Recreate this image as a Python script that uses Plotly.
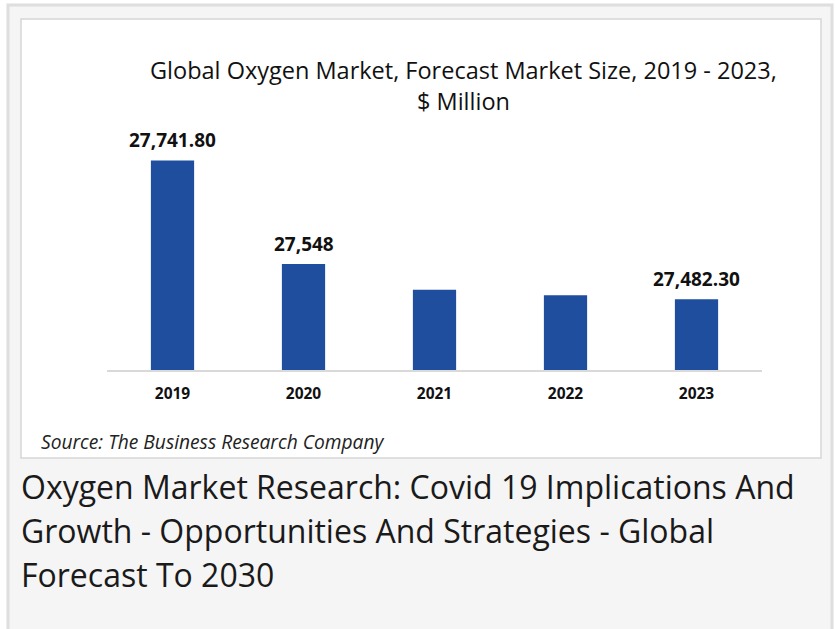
import plotly.graph_objects as go

years = ["2019", "2020", "2021", "2022", "2023"]
values = [27741.80, 27548.00, 27500.00, 27490.00, 27482.30]
labels = ["27,741.80", "27,548", "", "", "27,482.30"]

chart_title_1 = "Global Oxygen Market, Forecast Market Size, 2019 - 2023,"
chart_title_2 = "$ Million"
source_text = "Source: The Business Research Company"
heading_lines = [
    "Oxygen Market Research: Covid 19 Implications And",
    "Growth - Opportunities And Strategies - Global",
    "Forecast To 2030",
]

W, H = 836, 629
L, R, T, B = 107, 74, 120, 259
PW, PH = W - L - R, H - T - B


def px(x):
    return (x - L) / PW


def py(y):
    return (H - B - y) / PH


fig = go.Figure()
fig.add_trace(go.Bar(
    x=years, y=values, width=0.33,
    marker=dict(color="#1f4e9f", line=dict(width=0)),
    hoverinfo="skip",
))

annotations = []
for i, (v, lab) in enumerate(zip(values, labels)):
    if lab:
        annotations.append(dict(
            x=i, y=v, xref="x", yref="y", text=f"<b>{lab}</b>",
            showarrow=False, yanchor="bottom", yshift=5,
            font=dict(family="Open Sans", size=19, color="#111111"),
        ))

annotations.append(dict(x=px(463), y=py(70), xref="paper", yref="paper",
                        text=chart_title_1, showarrow=False, xanchor="center", yanchor="middle",
                        font=dict(family="Open Sans", size=23.5, color="#111111")))
annotations.append(dict(x=px(463), y=py(101), xref="paper", yref="paper",
                        text=chart_title_2, showarrow=False, xanchor="center", yanchor="middle",
                        font=dict(family="Open Sans", size=23.5, color="#111111")))
annotations.append(dict(x=px(39), y=py(441), xref="paper", yref="paper",
                        text=f"<i>{source_text}</i>", showarrow=False, xanchor="left", yanchor="middle",
                        font=dict(family="Open Sans", size=19.2, color="#222222")))
for i, line in enumerate(heading_lines):
    annotations.append(dict(x=px(19), y=py(486 + 44 * i), xref="paper", yref="paper",
                            text=line, showarrow=False, xanchor="left", yanchor="middle",
                            font=dict(family="Open Sans", size=32, color="#1a1a1a")))

shapes = [
    dict(type="rect", xref="paper", yref="paper", layer="below",
         x0=px(8), x1=px(832), y0=py(5), y1=py(660),
         fillcolor="#f5f5f5", line=dict(color="#dedede", width=3)),
    dict(type="rect", xref="paper", yref="paper", layer="below",
         x0=px(21), x1=px(821), y0=py(19), y1=py(458),
         fillcolor="#ffffff", line=dict(color="#d6d6d6", width=1.5)),
]

fig.update_layout(
    width=W, height=H,
    margin=dict(l=L, r=R, t=T, b=B, pad=0),
    paper_bgcolor="#ffffff", plot_bgcolor="rgba(0,0,0,0)",
    showlegend=False,
    annotations=annotations,
    shapes=shapes,
    xaxis=dict(
        type="category", range=[-0.5, len(years) - 0.5], autorange=False,
        showgrid=False, zeroline=False, showline=True, linecolor="#d9d9d9", linewidth=2,
        ticks="", tickfont=dict(family="Open Sans", size=15.5, color="#111111"),
        ticklabelstandoff=8,
        tickvals=years, ticktext=[f"<b>{y}</b>" for y in years],
        fixedrange=True,
    ),
    yaxis=dict(
        range=[27350, 27817.5], autorange=False, visible=False, showgrid=False, zeroline=False,
        fixedrange=True,
    ),
)

fig.write_html("out.html", config={"displayModeBar": False})
